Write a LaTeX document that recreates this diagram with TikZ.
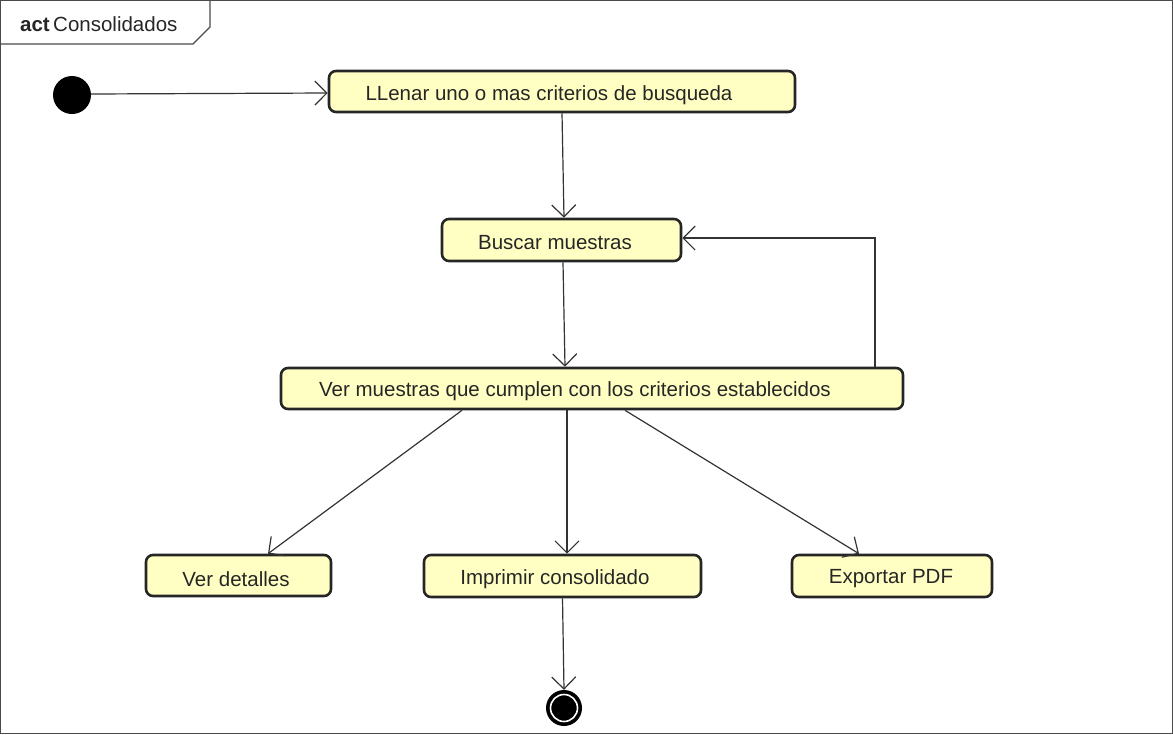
\documentclass[tikz,border=0pt]{standalone}
\usepackage{fontspec}
\setmainfont{Liberation Sans}
\usetikzlibrary{arrows.meta}
\definecolor{actfill}{HTML}{FFFFC3}
\definecolor{framegray}{HTML}{4A4A4A}
\tikzset{
  action/.style={draw=black!85, line width=2.6pt, fill=actfill, rounded corners=7pt,
    inner sep=0pt},
  label/.style={font=\fontsize{20.5}{24}\selectfont, text=black!85, inner sep=0pt},
  flow/.style={draw=black!80, line width=1.2pt,
    -{Straight Barb[length=12pt,width=24pt,line width=1.2pt]}},
}
\begin{document}
\begin{tikzpicture}[x=1pt,y=-1pt]
\useasboundingbox (0,0) rectangle (1173,734);
% diagram frame and name tab
\draw[framegray, line width=1.2pt] (0.6,0.6) rectangle (1172.4,733.4);
\draw[framegray, line width=1.2pt] (0.6,44) -- (193,44) -- (210,27) -- (210,0.6);
\node[label, anchor=west] (tab) at (20,24) {\textbf{act}\,Consolidados};

% start and end nodes
\node[circle, fill=black, minimum size=38pt, inner sep=0pt] (start) at (72,95) {};
\node[circle, fill=black, minimum size=36pt, inner sep=0pt] (stop) at (564,708) {};
\draw[white, line width=1.6pt] (stop.center) circle (13.5pt);

% actions
\node[action, minimum width=466pt, minimum height=41pt] (fill) at (562,91.5) {};
\node[label] at (549,95.5) {LLenar uno o mas criterios de busqueda};
\node[action, minimum width=239pt, minimum height=42pt] (search) at (561.5,240) {};
\node[label] at (555,243) {Buscar muestras};
\node[action, minimum width=622pt, minimum height=41pt] (view) at (592,388.5) {};
\node[label] at (575,391.5) {Ver muestras que cumplen con los criterios establecidos};
\node[action, minimum width=185pt, minimum height=41pt] (details) at (238.5,575.5) {};
\node[label] at (236,579) {Ver detalles};
\node[action, minimum width=277pt, minimum height=42pt] (print) at (562.5,576) {};
\node[label] at (555,579) {Imprimir consolidado};
\node[action, minimum width=200pt, minimum height=42pt] (pdf) at (892,576) {};
\node[label] at (891,579) {Exportar PDF};

% control flows
\draw[flow] ([yshift=1pt]start.east) -- ([yshift=-1.5pt]fill.west);
\draw[flow] (fill.south) -- ([xshift=2.5pt]search.north);
\draw[flow] ([xshift=1.5pt]search.south) -- ([xshift=-27pt]view.north);
\draw[flow] ([xshift=283pt]view.north) |- ([yshift=2pt]search.east);
\draw[flow] ([xshift=-130pt]view.south) -- ([xshift=29.5pt]details.north);
\draw[flow] ([xshift=-25pt]view.south) -- ([xshift=4.5pt]print.north);
\draw[flow] ([xshift=33pt]view.south) -- ([xshift=-33pt]pdf.north);
\draw[flow] (print.south) -- (stop.north);
\end{tikzpicture}
\end{document}
